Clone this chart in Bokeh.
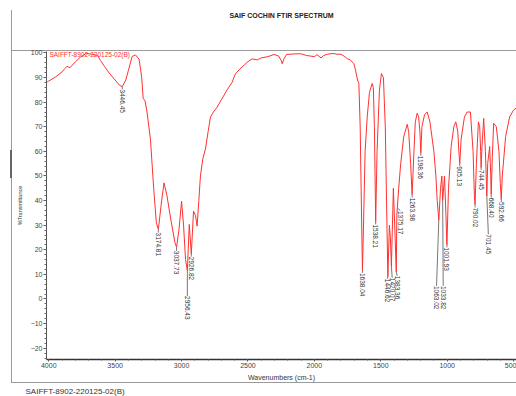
import numpy as np
from bokeh.plotting import figure
from bokeh.models import Range1d, Label, FixedTicker, ColumnDataSource, Title
from bokeh.embed import file_html
from bokeh.resources import INLINE
from bokeh.core.properties import value

# ---------------- data ----------------
wavenumber = [
    4012, 4000, 3950, 3900, 3880, 3862, 3840, 3800, 3761, 3717,
    3680, 3633, 3611, 3580, 3540, 3500, 3470, 3446.45, 3420, 3400,
    3372, 3347, 3320, 3300, 3289, 3275, 3260, 3234, 3210, 3190,
    3174.81, 3150, 3132, 3110, 3080, 3050, 3037.73, 3020, 3000, 2985,
    2970, 2956.43, 2942, 2926.82, 2910, 2895, 2883, 2870, 2858, 2840,
    2820, 2800, 2782, 2760, 2732, 2700, 2658, 2620, 2594, 2560,
    2530, 2500, 2468, 2430, 2400, 2350, 2303, 2270, 2250, 2242,
    2230, 2210, 2150, 2105, 2060, 2000, 1980, 1950, 1930, 1900,
    1860, 1830, 1800, 1770, 1750, 1730, 1702, 1690, 1675, 1665,
    1655, 1645, 1638.04, 1630, 1618, 1602, 1585, 1565, 1556, 1548,
    1538.21, 1528, 1510, 1495, 1480, 1466, 1455, 1446.62, 1435, 1428,
    1420.07, 1405, 1395, 1383.36, 1379, 1375.17, 1365, 1350, 1327, 1301,
    1290, 1275, 1263.98, 1250, 1240, 1226, 1215, 1205, 1198.36, 1190,
    1170, 1150, 1130, 1100, 1085, 1075, 1063.02, 1050, 1040, 1033.82,
    1020, 1010, 1001.93, 990, 970, 950, 935, 920, 912, 905.13,
    895, 870, 850, 825, 805, 795, 790.02, 780, 765, 755,
    748, 744.45, 738, 725, 712, 705, 701.45, 695, 680, 672,
    668.40, 660, 650, 630, 610, 600, 592.66, 585, 560, 530,
    500, 470,
]
transmittance = [
    88.2, 88.6, 90.2, 92.3, 93.6, 94.6, 94.0, 96.4, 98.3, 99.9,
    99.5, 99.0, 97.0, 94.5, 91.5, 89.0, 87.0, 86.3, 89.0, 93.0,
    98.6, 99.2, 97.5, 90.0, 81.5, 80.5, 76.0, 64.7, 45.0, 31.0,
    28.3, 40.0, 47.2, 42.0, 32.0, 23.0, 21.0, 28.0, 39.7, 30.0,
    16.0, 11.5, 30.3, 18.2, 35.7, 34.0, 29.6, 40.0, 50.0, 57.0,
    61.0, 68.0, 74.0, 76.0, 78.0, 81.0, 84.9, 88.0, 91.6, 93.5,
    95.0, 96.5, 97.6, 97.2, 98.0, 98.5, 99.4, 98.8, 97.0, 95.6,
    97.5, 99.4, 99.6, 99.7, 99.0, 98.5, 99.3, 98.0, 99.0, 99.5,
    99.8, 99.5, 99.5, 98.5, 97.6, 97.2, 95.6, 93.0, 89.0, 87.6,
    70.0, 35.0, 11.6, 30.0, 60.0, 74.0, 84.0, 87.6, 86.0, 70.0,
    31.5, 60.0, 85.0, 91.6, 90.0, 70.0, 35.0, 9.0, 30.0, 25.0,
    13.4, 45.0, 30.0, 11.0, 34.0, 37.0, 45.0, 55.0, 66.0, 71.0,
    68.0, 55.0, 42.4, 60.0, 72.0, 75.5, 74.0, 68.0, 59.4, 70.0,
    75.0, 76.0, 72.0, 60.0, 50.0, 40.0, 32.0, 45.0, 50.0, 40.0,
    50.0, 35.0, 22.0, 45.0, 62.0, 70.0, 72.0, 68.0, 60.0, 55.0,
    65.0, 74.0, 76.0, 76.0, 60.0, 42.0, 38.4, 55.0, 72.0, 70.0,
    60.0, 53.4, 62.0, 73.4, 60.0, 48.0, 41.8, 55.0, 62.0, 50.0,
    42.4, 58.0, 71.4, 70.0, 60.0, 47.0, 40.4, 50.0, 66.0, 74.0,
    76.8, 78.0,
]
assert len(wavenumber) == len(transmittance)

peak_wn = [3446.45, 3174.81, 3037.73, 2956.43, 2926.82, 1638.04, 1538.21,
           1446.62, 1420.07, 1383.36, 1375.17, 1263.98, 1198.36, 1063.02,
           1033.82, 1001.93, 905.13, 790.02, 744.45, 701.45, 668.40, 592.66]
peak_T = [86.3, 28.3, 21.0, 11.5, 18.2, 11.6, 31.5,
          9.0, 13.4, 11.0, 37.0, 42.4, 59.4, 32.0,
          40.0, 22.0, 55.0, 38.4, 53.4, 41.8, 42.4, 40.4]
label_wn = [3446.45, 3174.81, 3037.73, 2956.43, 2926.82, 1638.04, 1538.21,
            1452.0, 1414.0, 1376.0, 1352.0, 1263.98, 1198.36, 1080.0,
            1030.0, 1001.93, 905.13, 790.02, 744.45, 690.0, 668.40, 592.66]
label_T = [85.2, 27.0, 19.6, 1.2, 17.2, 10.6, 30.3,
           8.2, 8.6, 9.4, 35.8, 41.2, 58.2, 5.3,
           5.3, 21.0, 54.0, 37.2, 52.4, 26.3, 41.2, 39.4]
peak_text = ["%.2f" % w for w in peak_wn]

x_ticks = [4000, 3500, 3000, 2500, 2000, 1500, 1000, 500]
y_ticks = [-20, -10, 0, 10, 20, 30, 40, 50, 60, 70, 80, 90, 100]

# ---------------- layout ----------------
W, H = 516, 396
BL, BR, BT, BB = 46, 0, 51, 35
X0, X1 = 4017, 478
Y0, Y1 = -24.6, 100.6

FONT = "Liberation Sans"

p = figure(width=W, height=H, x_range=Range1d(X0, X1), y_range=Range1d(Y0, Y1),
           output_backend="svg", toolbar_location=None,
           min_border_left=BL, min_border_right=BR, min_border_top=BT,
           min_border_bottom=BB)
p.xgrid.visible = False
p.ygrid.visible = False
p.outline_line_color = None
p.background_fill_color = None
p.border_fill_color = None

# outer report box drawn as page background behind the transparent canvas
p.styles = {
    "background": (
        "linear-gradient(#666,#666) 10px 150px / 2px 28px no-repeat, "
        "linear-gradient(#9a9a9a,#9a9a9a) 11px 10px / 1px 372px no-repeat, "
        "linear-gradient(#9a9a9a,#9a9a9a) 11px 382px / 505px 1px no-repeat, "
        "linear-gradient(#9a9a9a,#9a9a9a) 11px 50px / 505px 1px no-repeat, "
        "white"
    )
}

# spacer between frame and title, so that the title sits near the top
p.add_layout(Title(text=" ", text_font_size="26px", standoff=0), "above")

# title
p.title.text = "SAIF COCHIN FTIR SPECTRUM"
p.title.align = "center"
p.title.offset = -21
p.title.standoff = 2
p.title.text_font = FONT
p.title.text_font_size = "7px"
p.title.text_font_style = "bold"
p.title.text_color = "#222222"

# axes
p.yaxis.ticker = FixedTicker(ticks=y_ticks, minor_ticks=list(range(-24, 101, 2)))
p.xaxis.ticker = FixedTicker(ticks=x_ticks, minor_ticks=list(range(500, 4001, 100)))
for ax in (p.xaxis[0], p.yaxis[0]):
    ax.major_label_text_font = FONT
    ax.major_label_text_font_size = "7px"
    ax.major_label_text_color = "#444444"
    ax.axis_label_text_font = FONT
    ax.axis_label_text_font_style = "normal"
    ax.axis_label_text_color = "#333333"
    ax.major_tick_in = 0
    ax.minor_tick_in = 0
    ax.major_tick_line_color = "#555555"
    ax.minor_tick_line_color = "#666666"

p.yaxis.axis_line_color = "#555555"
p.yaxis.major_tick_out = 3
p.yaxis.minor_tick_out = 2
p.yaxis.major_label_standoff = 1
p.yaxis.axis_label = "%Transmittance"
p.yaxis.axis_label_text_font_size = "5.5px"
p.yaxis.axis_label_standoff = 5

p.xaxis.axis_line_color = "#333333"
p.xaxis.axis_line_width = 1.5
p.xaxis.major_tick_out = 2
p.xaxis.minor_tick_out = 1
p.xaxis.major_label_standoff = 1
p.xaxis.axis_label = "Wavenumbers (cm-1)"
p.xaxis.axis_label_text_font_size = "7px"
p.xaxis.axis_label_standoff = 3

# footer text under the report box
p.add_layout(Title(text="SAIFFT-8902-220125-02(B)", align="left", offset=-21, standoff=2,
                   text_font=FONT, text_font_size="8px", text_font_style="normal",
                   text_color="#333333"), "below")

# spectrum
p.line(wavenumber, transmittance, line_color="#ff3030", line_width=1)

# peak leaders and labels
src = ColumnDataSource(dict(x0=peak_wn, y0=peak_T, x1=label_wn, y1=label_T, t=peak_text))
p.segment(x0="x0", y0="y0", x1="x1", y1="y1", source=src, line_color="#777777", line_width=1)
p.text(x="x1", y="y1", text="t", source=src, angle=-np.pi / 2,
       text_align="left", text_baseline="middle", text_font=value(FONT),
       text_font_size=value("6.5px"), text_color="#333333")

p.add_layout(Label(x=3995, y=99.4, text="SAIFFT-8902-220125-02(B)",
                   text_align="left", text_baseline="middle", text_font=FONT,
                   text_font_size="6.5px", text_color="#ff3030"))

open("out.html", "w").write(file_html(p, INLINE))
